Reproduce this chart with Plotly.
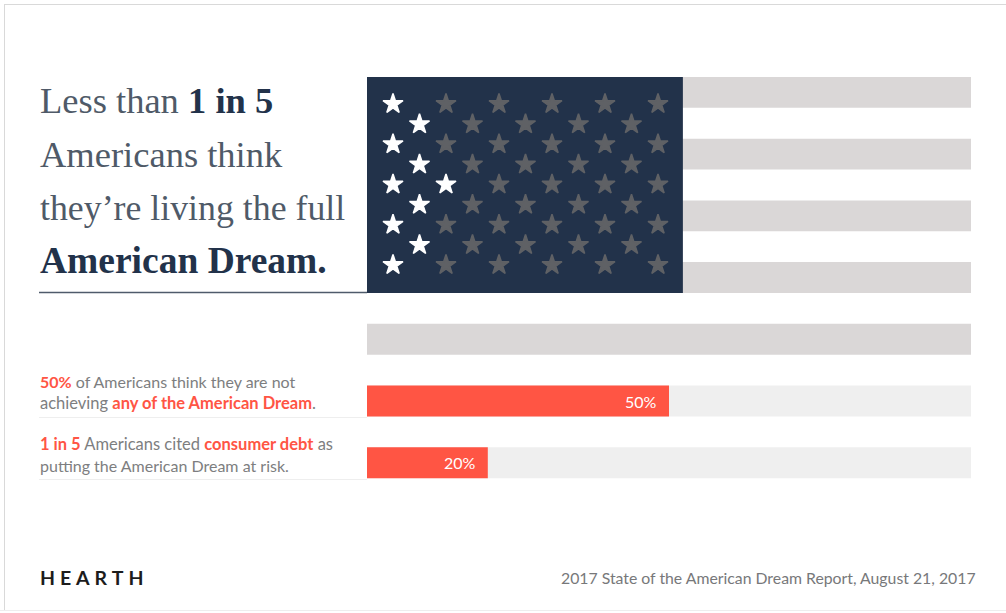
import plotly.graph_objects as go

W, H = 1006, 613

# Stripe rows, top to bottom, as percentages of the full bar length
stripe_rows = [0, 1, 2, 3, 4, 5, 6]
stripe_full = [100, 100, 100, 100, 100, 100, 100]
stripe_colors = ["#dad7d7", "#dad7d7", "#dad7d7", "#dad7d7", "#dad7d7", "#efefef", "#efefef"]

# Survey results drawn on the two lower stripes
result_rows = [5, 6]
result_values = [50, 20]

# Canton of the flag
canton_length = [52.3]
canton_center = [1.5]
canton_span = [3.5]

# Stars: column index, row index; the first ten are lit (1 in 5 of 50)
lit_cols = [0, 0, 0, 0, 0, 1, 1, 1, 1, 2]
lit_rows = [0, 2, 4, 6, 8, 1, 3, 5, 7, 4]
dim_cols = [2, 2, 2, 2,
            3, 3, 3, 3,
            4, 4, 4, 4, 4,
            5, 5, 5, 5,
            6, 6, 6, 6, 6,
            7, 7, 7, 7,
            8, 8, 8, 8, 8,
            9, 9, 9, 9,
            10, 10, 10, 10, 10]
dim_rows = [0, 2, 6, 8,
            1, 3, 5, 7,
            0, 2, 4, 6, 8,
            1, 3, 5, 7,
            0, 2, 4, 6, 8,
            1, 3, 5, 7,
            0, 2, 4, 6, 8,
            1, 3, 5, 7,
            0, 2, 4, 6, 8]

NAVY = "#22324a"
RED = "#ff5544"
SERIF = "Liberation Serif"
SANS = "Lato"
STAR_DIM = "#5f6165"
STAR_LIT = "#ffffff"

fig = go.Figure()

fig.add_trace(go.Bar(x=stripe_full, y=stripe_rows, orientation="h", width=0.5,
                     marker=dict(color=stripe_colors, line_width=0), hoverinfo="skip"))
fig.add_trace(go.Bar(x=result_values, y=result_rows, orientation="h", width=0.5,
                     marker=dict(color=RED, line_width=0), hoverinfo="skip"))
fig.add_trace(go.Bar(x=canton_length, y=canton_center, orientation="h", width=canton_span,
                     marker=dict(color=NAVY, line_width=0), hoverinfo="skip"))

# An outline in the fill colour gives the stars their fuller points
fig.add_trace(go.Scatter(x=dim_cols, y=dim_rows, xaxis="x2", yaxis="y2", mode="markers",
                         marker=dict(symbol="star", size=15, color=STAR_DIM,
                                     line=dict(color=STAR_DIM, width=1.5)),
                         cliponaxis=False, hoverinfo="skip"))
fig.add_trace(go.Scatter(x=lit_cols, y=lit_rows, xaxis="x2", yaxis="y2", mode="markers",
                         marker=dict(symbol="star", size=15, color=STAR_LIT,
                                     line=dict(color=STAR_LIT, width=1.5)),
                         cliponaxis=False, hoverinfo="skip"))


def px_x(p):
    return p / W


def px_y(p):
    return 1 - p / H


def text(x, y, s, size, color, family=SANS, anchor="left"):
    return dict(xref="paper", yref="paper", x=px_x(x), y=px_y(y), text=s, showarrow=False,
                xanchor=anchor, yanchor="middle", align=anchor,
                font=dict(family=family, size=size, color=color))


def strong(s, color):
    return f'<b><span style="color:{color}">{s}</span></b>'


TITLE = "#4f5a68"
BODY = "#7d7e80"
annotations = [
    text(38, 101, "Less than " + strong("1 in 5", NAVY), 36.5, TITLE, SERIF),
    text(38, 154, "Americans think", 36.5, TITLE, SERIF),
    text(38, 208, "they’re living the full", 35.8, TITLE, SERIF),
    text(38, 261, strong("American Dream.", NAVY), 37.5, TITLE, SERIF),
    text(38, 381.5, strong("50%", RED) + " of Americans think they are not", 16, BODY),
    text(38, 403, "achieving " + strong("any of the American Dream", RED) + ".", 16.5, BODY),
    text(38, 444, strong("1 in 5", RED) + " Americans cited " + strong("consumer debt", RED) + " as", 16.5, BODY),
    text(38, 465, "putting the American Dream at risk.", 16, BODY),
    text(38, 577.5, "<b>H\u2005E\u2005A\u2005R\u2005T\u2005H</b>", 19.5, "#1c1c1c"),
    text(978, 577, "2017 State of the American Dream Report, August 21, 2017", 15.8, "#77787a", anchor="right"),
]
for row, value in zip(result_rows, result_values):
    annotations.append(dict(x=value, y=row, xref="x", yref="y", text=f"{value}%", showarrow=False,
                            xanchor="right", xshift=-10,
                            font=dict(family=SANS, size=16, color="#ffffff")))


def rule(x0, x1, y, color, width):
    return dict(type="line", xref="paper", yref="paper", x0=px_x(x0), x1=px_x(x1),
                y0=px_y(y), y1=px_y(y), line=dict(color=color, width=width), layer="below")


shapes = [
    rule(39, 367, 292.5, "#4f5b6b", 1.5),
    rule(39, 367, 417.5, "#eeeeee", 1),
    rule(39, 367, 479.5, "#eeeeee", 1),
    rule(4, W, 4.5, "#d9d9d9", 1),
    rule(0, W, 610.5, "#eeeeee", 1),
    dict(type="line", xref="paper", yref="paper", x0=px_x(4.5), x1=px_x(4.5),
         y0=px_y(4), y1=px_y(610), line=dict(color="#d9d9d9", width=1), layer="below"),
]

hidden = dict(visible=False, showgrid=False, zeroline=False, fixedrange=True)
fig.update_layout(
    width=W, height=H, autosize=False,
    margin=dict(l=0, r=0, t=0, b=0),
    paper_bgcolor="#ffffff", plot_bgcolor="rgba(0,0,0,0)",
    showlegend=False, barmode="overlay",
    xaxis=dict(domain=[px_x(367), px_x(971)], range=[0, 100], **hidden),
    yaxis=dict(domain=[px_y(493.6), px_y(61.5)], range=[6.5, -0.5], **hidden),
    # Star grid on its own axes so its domain can sit inside the canton; one unit per column and row
    xaxis2=dict(domain=[px_x(393), px_x(658)], range=[0, 10], anchor="y2", **hidden),
    yaxis2=dict(domain=[px_y(265), px_y(104)], range=[8, 0], anchor="x2", **hidden),
    annotations=annotations, shapes=shapes,
)

fig.write_html("out.html", config=dict(displayModeBar=False))
